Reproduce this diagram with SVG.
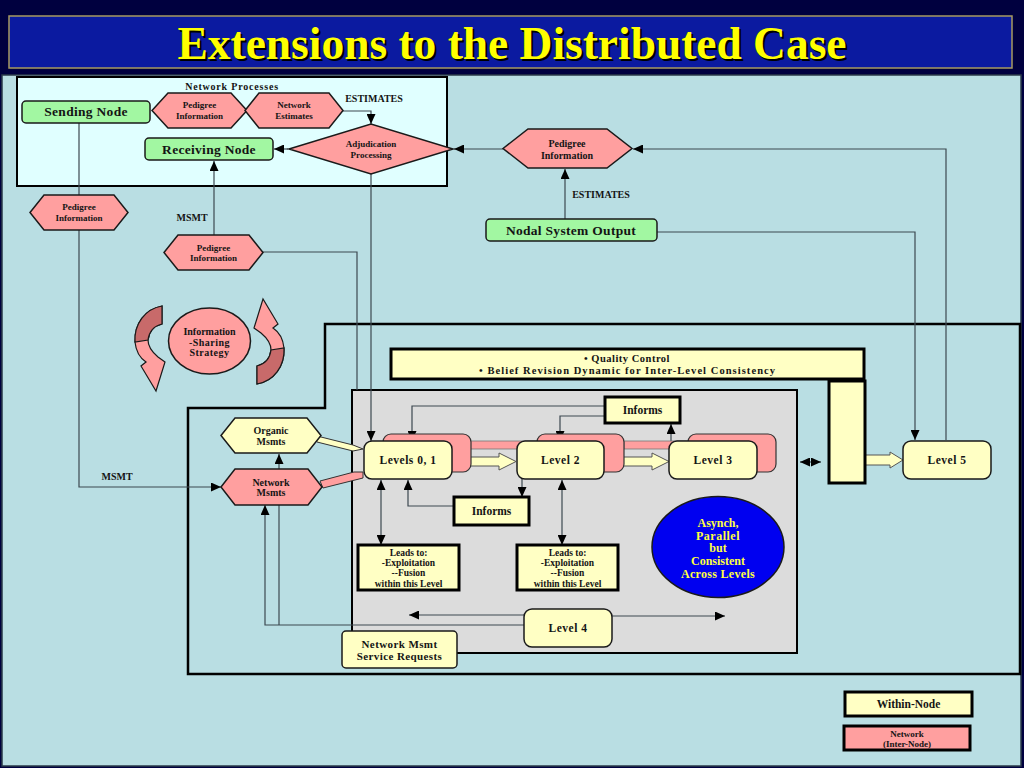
<svg xmlns="http://www.w3.org/2000/svg" width="1024" height="768" viewBox="0 0 1024 768">
<defs>
<marker id="ah" markerUnits="userSpaceOnUse" markerWidth="10" markerHeight="9" refX="10" refY="4.5" orient="auto-start-reverse">
<path d="M0,0 L10,4.5 L0,9 Z" fill="#000"/>
</marker>
<style>
text{font-family:"Liberation Serif","Times New Roman",serif;font-weight:bold;fill:#141414;text-anchor:middle}
.t9{font-size:9px}
.t10{font-size:10px}
.t11{font-size:11.5px}
.t13{font-size:13.5px;letter-spacing:0.3px}
.green{fill:#a2f7a2;stroke:#1a1a1a;stroke-width:1.5}
.pink{fill:#ff9f9f;stroke:#1a1a1a;stroke-width:1.5}
.yel{fill:#ffffc4;stroke:#1a1a1a;stroke-width:1.5}
.yelT{fill:#ffffc4;stroke:#000;stroke-width:3}
.pinkT{fill:#ff9f9f;stroke:#000;stroke-width:3}
.shadow{fill:#ff9f9f;stroke:#333;stroke-width:1.2}
.ln{fill:none;stroke:#3c4850;stroke-width:1.2}
.arr{fill:none;stroke:#3c4850;stroke-width:1.2;marker-end:url(#ah)}
.darr{fill:none;stroke:#3c4850;stroke-width:1.2;marker-end:url(#ah);marker-start:url(#ah)}
.block{fill:#ffffc4;stroke:#555;stroke-width:1}
.cyc{fill:#ff9f9f;stroke:#1a1a1a;stroke-width:1.2}
.cycD{fill:#c86a6a;stroke:#1a1a1a;stroke-width:1.2}
.async{font-size:12px;fill:#ffff40}
</style>
<path id="cycle" d="M162,306 C145,309 134,324 135,342 C136,352 140,358 146,362 L141,366 L156,391 L165,362 L158,357 C152,352 148,347 148,340 C149,332 154,326 162,324 Z"/>
<path id="cycleDark" d="M162,306 C145,309 134,324 135,342 L148,340 C149,332 154,326 162,324 Z"/>
</defs>

<!-- background -->
<rect x="0" y="0" width="1024" height="768" fill="#00003f"/>
<rect x="9" y="16" width="1003" height="52" fill="#0b1aa0" stroke="#a89a60" stroke-width="1.5"/>
<text x="514" y="61" font-size="47" textLength="669" lengthAdjust="spacingAndGlyphs" style="fill:#000">Extensions to the Distributed Case</text>
<text x="512" y="59" font-size="47" textLength="669" lengthAdjust="spacingAndGlyphs" style="fill:#ffff00">Extensions to the Distributed Case</text>
<rect x="2" y="75" width="1019" height="691" fill="#b9dee3" stroke="#2a3a4a" stroke-width="1.5"/>

<!-- panels -->
<g id="network-processes-panel">
<rect x="17" y="77" width="430" height="109" fill="#e0ffff" stroke="#000" stroke-width="2"/>
<text class="t10" x="232" y="89.5" style="letter-spacing:0.8px">Network Processes</text>
</g>
<g id="node-boundary">
<path d="M325,324 L1020,324 L1020,674 L188,674 L188,408 L325,408 Z" fill="none" stroke="#000" stroke-width="2.5"/>
</g>
<g id="levels-panel">
<rect x="352" y="390" width="445" height="263" fill="#dcdcdc" stroke="#000" stroke-width="2"/>
</g>

<!-- connectors -->
<g id="connectors">
<path class="arr" d="M343,111 L371,111 L371,124"/>
<path class="arr" d="M288,149 L274,149"/>
<path class="arr" d="M503,149 L454,149"/>
<path class="arr" d="M946,440 L946,149 L633,149"/>
<path class="arr" d="M565,219 L565,169"/>
<path class="arr" d="M657,232 L915,232 L915,440"/>
<path class="arr" d="M371,174 L371,441"/>
<path class="ln" d="M263,252 L357,252 L357,390"/>
<path class="arr" d="M214,235 L214,161"/>
<path class="arr" d="M79,123 L79,487 L221,487"/>
<path class="arr" d="M605,406 L412,406 L412,441"/>
<path class="arr" d="M605,416 L560,416 L560,441"/>
<path class="arr" d="M671,441 L671,424"/>
<path class="arr" d="M522,479 L522,497"/>
<path class="arr" d="M454,506 L408,506 L408,480"/>
<path class="darr" d="M381,480 L381,545"/>
<path class="darr" d="M562,480 L562,545"/>
<path class="arr" d="M524,615 L409,615"/>
<path class="arr" d="M612,616 L725,616"/>
<path class="arr" d="M524,625 L265,625 L265,505"/>
<path class="ln" d="M279,505 L279,625"/>
<path class="arr" d="M279,469 L279,454"/>
<path class="darr" d="M800,462 L821,462"/>
<!-- pink network bars -->
<rect x="470" y="441" width="67" height="8" fill="#ff9f9f" stroke="#777" stroke-width="0.8"/>
<rect x="624" y="441" width="64" height="8" fill="#ff9f9f" stroke="#777" stroke-width="0.8"/>
<!-- wedges into Levels 0,1 -->
<polygon points="313,435 353,445 363,449 353,451 317,442" fill="#ffffc4" stroke="#333" stroke-width="1"/>
<polygon points="320,481 354,472 363,472 363,478 323,488" fill="#ff9f9f" stroke="#333" stroke-width="1"/>
<!-- block arrows -->
<polygon class="block" points="453,457 499,457 499,453 516,461.5 499,470 499,466 453,466"/>
<polygon class="block" points="605,457 652,457 652,453 669,461.5 652,470 652,466 605,466"/>
<polygon class="block" points="865,455 890,455 890,452 903,460 890,468 890,465 865,465"/>
</g>

<!-- labels on connectors -->
<text class="t10" x="374" y="102">ESTIMATES</text>
<text class="t10" x="601" y="198">ESTIMATES</text>
<text class="t10" x="192" y="221">MSMT</text>
<text class="t10" x="117" y="480">MSMT</text>

<!-- nodes -->
<g id="sending-node">
<rect class="green" x="22" y="101" width="128" height="22" rx="4"/>
<text class="t13" x="86" y="116">Sending Node</text>
</g>
<g id="pedigree-top">
<polygon class="pink" points="152,110.5 168,93 231,93 247,110.5 231,128 168,128"/>
<text class="t9" x="199.5" y="108">Pedigree</text>
<text class="t9" x="199.5" y="119">Information</text>
</g>
<g id="network-estimates">
<polygon class="pink" points="245,110.5 259,93 329,93 343,110.5 329,128 259,128"/>
<text class="t9" x="294" y="108">Network</text>
<text class="t9" x="294" y="119">Estimates</text>
</g>
<g id="receiving-node">
<rect class="green" x="145" y="138" width="128" height="22" rx="4"/>
<text class="t13" x="209" y="153.5">Receiving Node</text>
</g>
<g id="adjudication">
<polygon class="pink" points="289,149 371,124 453,149 371,174"/>
<text class="t9" x="371" y="147">Adjudication</text>
<text class="t9" x="371" y="158">Processing</text>
</g>
<g id="pedigree-right">
<polygon class="pink" points="503,148.5 528,129 607,129 632,148.5 607,168 528,168"/>
<text class="t10" x="567" y="147">Pedigree</text>
<text class="t10" x="567" y="158.5">Information</text>
</g>
<g id="nodal-system-output">
<rect class="green" x="486" y="219" width="171" height="22" rx="4"/>
<text class="t13" x="571" y="234.5">Nodal System Output</text>
</g>
<g id="pedigree-left">
<polygon class="pink" points="30,212.5 44,195 114,195 128,212.5 114,230 44,230"/>
<text class="t9" x="79" y="210">Pedigree</text>
<text class="t9" x="79" y="221">Information</text>
</g>
<g id="pedigree-middle">
<polygon class="pink" points="164,252.5 178,235 249,235 263,252.5 249,270 178,270"/>
<text class="t9" x="213.5" y="250.5">Pedigree</text>
<text class="t9" x="213.5" y="261">Information</text>
</g>
<g id="info-sharing">
<g id="cycle-arrow-left">
<use href="#cycle" class="cyc"/>
<use href="#cycleDark" class="cycD"/>
</g>
<g id="cycle-arrow-right" transform="rotate(180 209.5 345)">
<use href="#cycle" class="cyc"/>
<use href="#cycleDark" class="cycD"/>
</g>
<ellipse cx="209.5" cy="341" rx="41" ry="33" fill="#ff9f9f" stroke="#1a1a1a" stroke-width="1.5"/>
<text class="t10" x="209.5" y="335">Information</text>
<text class="t10" x="209.5" y="345.5" style="letter-spacing:0.5px">-Sharing</text>
<text class="t10" x="209.5" y="356" style="letter-spacing:0.5px">Strategy</text>
</g>
<g id="quality-control">
<rect class="yelT" x="391" y="349" width="473" height="30"/>
<text class="t10" x="627" y="361.5" style="font-size:10.5px;letter-spacing:0.5px">• Quality Control</text>
<text class="t10" x="627" y="373.5" style="font-size:10.5px" textLength="296" lengthAdjust="spacing">• Belief Revision Dynamic for Inter-Level Consistency</text>
</g>
<g id="consistency-bar">
<rect class="yelT" x="829" y="381" width="36" height="102"/>
</g>
<g id="organic-msmts">
<polygon class="yel" points="221,435.5 235,418 307,418 321,435.5 307,453 235,453"/>
<text class="t10" x="271" y="434">Organic</text>
<text class="t10" x="271" y="444.5">Msmts</text>
</g>
<g id="network-msmts">
<polygon class="pink" points="221,487 235,469 308,469 322,487 308,505 235,505"/>
<text class="t10" x="271" y="485.5">Network</text>
<text class="t10" x="271" y="496">Msmts</text>
</g>
<g id="levels-0-1">
<rect class="shadow" x="383" y="434" width="88" height="38" rx="8"/>
<rect class="yel" x="364" y="441" width="88" height="38" rx="8"/>
<text class="t11" x="408" y="464" style="letter-spacing:0.5px">Levels 0, 1</text>
</g>
<g id="level-2">
<rect class="shadow" x="537" y="434" width="87" height="38" rx="8"/>
<rect class="yel" x="517" y="441" width="87" height="38" rx="8"/>
<text class="t11" x="560.5" y="464" style="letter-spacing:0.5px">Level 2</text>
</g>
<g id="level-3">
<rect class="shadow" x="688" y="434" width="88" height="38" rx="8"/>
<rect class="yel" x="669" y="441" width="88" height="38" rx="8"/>
<text class="t11" x="713" y="464" style="letter-spacing:0.5px">Level 3</text>
</g>
<g id="level-5">
<rect class="yel" x="903" y="441" width="88" height="38" rx="8"/>
<text class="t11" x="947" y="464" style="letter-spacing:0.5px">Level 5</text>
</g>
<g id="informs-top">
<rect class="yelT" x="605" y="397" width="75" height="26"/>
<text class="t11" x="642.5" y="414">Informs</text>
</g>
<g id="informs-bottom">
<rect class="yelT" x="454" y="497" width="75" height="28"/>
<text class="t11" x="491.5" y="515">Informs</text>
</g>
<g id="leads-to-1">
<rect class="yelT" x="358" y="545" width="101" height="45"/>
<text class="t10" x="408.5" y="556" style="font-size:9.5px">Leads to:</text>
<text class="t10" x="408.5" y="566" style="font-size:9.5px">-Exploitation</text>
<text class="t10" x="408.5" y="576" style="font-size:9.5px">--Fusion</text>
<text class="t10" x="408.5" y="586.5" style="font-size:9.5px">within this Level</text>
</g>
<g id="leads-to-2">
<rect class="yelT" x="517" y="545" width="101" height="45"/>
<text class="t10" x="567.5" y="556" style="font-size:9.5px">Leads to:</text>
<text class="t10" x="567.5" y="566" style="font-size:9.5px">-Exploitation</text>
<text class="t10" x="567.5" y="576" style="font-size:9.5px">--Fusion</text>
<text class="t10" x="567.5" y="586.5" style="font-size:9.5px">within this Level</text>
</g>
<g id="asynch">
<ellipse cx="718" cy="547" rx="66" ry="50.5" fill="#0000f0" stroke="#1a1a1a" stroke-width="1.5"/>
<text class="async" x="718" y="526.5">Asynch,</text>
<text class="async" x="718" y="539.5" style="letter-spacing:0.5px">Parallel</text>
<text class="async" x="718" y="552">but</text>
<text class="async" x="718" y="565">Consistent</text>
<text class="async" x="718" y="578" style="letter-spacing:0.3px">Across Levels</text>
</g>
<g id="level-4">
<rect class="yel" x="524" y="609" width="88" height="38" rx="8"/>
<text class="t11" x="568" y="632" style="letter-spacing:0.5px">Level 4</text>
</g>
<g id="network-msmt-service-requests">
<rect class="yel" x="342" y="631" width="115" height="37" rx="4"/>
<text class="t11" x="399.5" y="648" style="font-size:11px;letter-spacing:0.4px">Network Msmt</text>
<text class="t11" x="399.5" y="660" style="font-size:11px;letter-spacing:0.4px">Service Requests</text>
</g>
<g id="legend-within-node">
<rect class="yelT" x="845" y="692" width="127" height="24"/>
<text class="t11" x="908.5" y="708">Within-Node</text>
</g>
<g id="legend-network">
<rect class="pinkT" x="844" y="726" width="126" height="24"/>
<text class="t9" x="907" y="736.5">Network</text>
<text class="t9" x="907" y="746.5">(Inter-Node)</text>
</g>
</svg>
